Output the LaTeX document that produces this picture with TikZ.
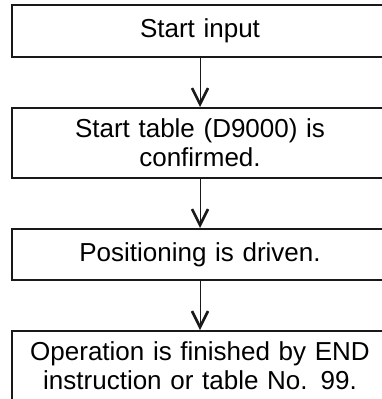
\documentclass[tikz,border=0pt]{standalone}
\usepackage{fontspec}
\setmainfont{Liberation Sans}
\usetikzlibrary{arrows.meta}

\begin{document}
\begin{tikzpicture}[x=1pt, y=1pt,
    stepbox/.style={draw=black!90, line width=2pt, minimum width=376pt,
        text width=366pt, align=center, inner sep=0pt, text=black,
        font=\fontsize{26}{29}\selectfont},
    flow/.style={draw=black!90, line width=0.9pt,
        -{Straight Barb[length=16pt, width=16pt, line width=2.6pt]}}]
    \useasboundingbox (0,0) rectangle (382,-399);

    % Steps of the flow, top to bottom
    \node[stepbox, minimum height=52pt] (start) at (200,-31) {Start input};
    \node[stepbox, minimum height=70pt] (table) at (200,-143) {Start table (D9000) is\\confirmed.};
    \node[stepbox, minimum height=51pt] (drive) at (200,-254.5) {Positioning is driven.};
    \node[stepbox, minimum height=70pt] (finish) at (200,-366) {Operation is finished by END\\instruction or table No. 99.};

    % Arrows between the steps
    \draw[flow] (start) -- (table);
    \draw[flow] (table) -- (drive);
    \draw[flow] (drive) -- (finish);
\end{tikzpicture}
\end{document}
